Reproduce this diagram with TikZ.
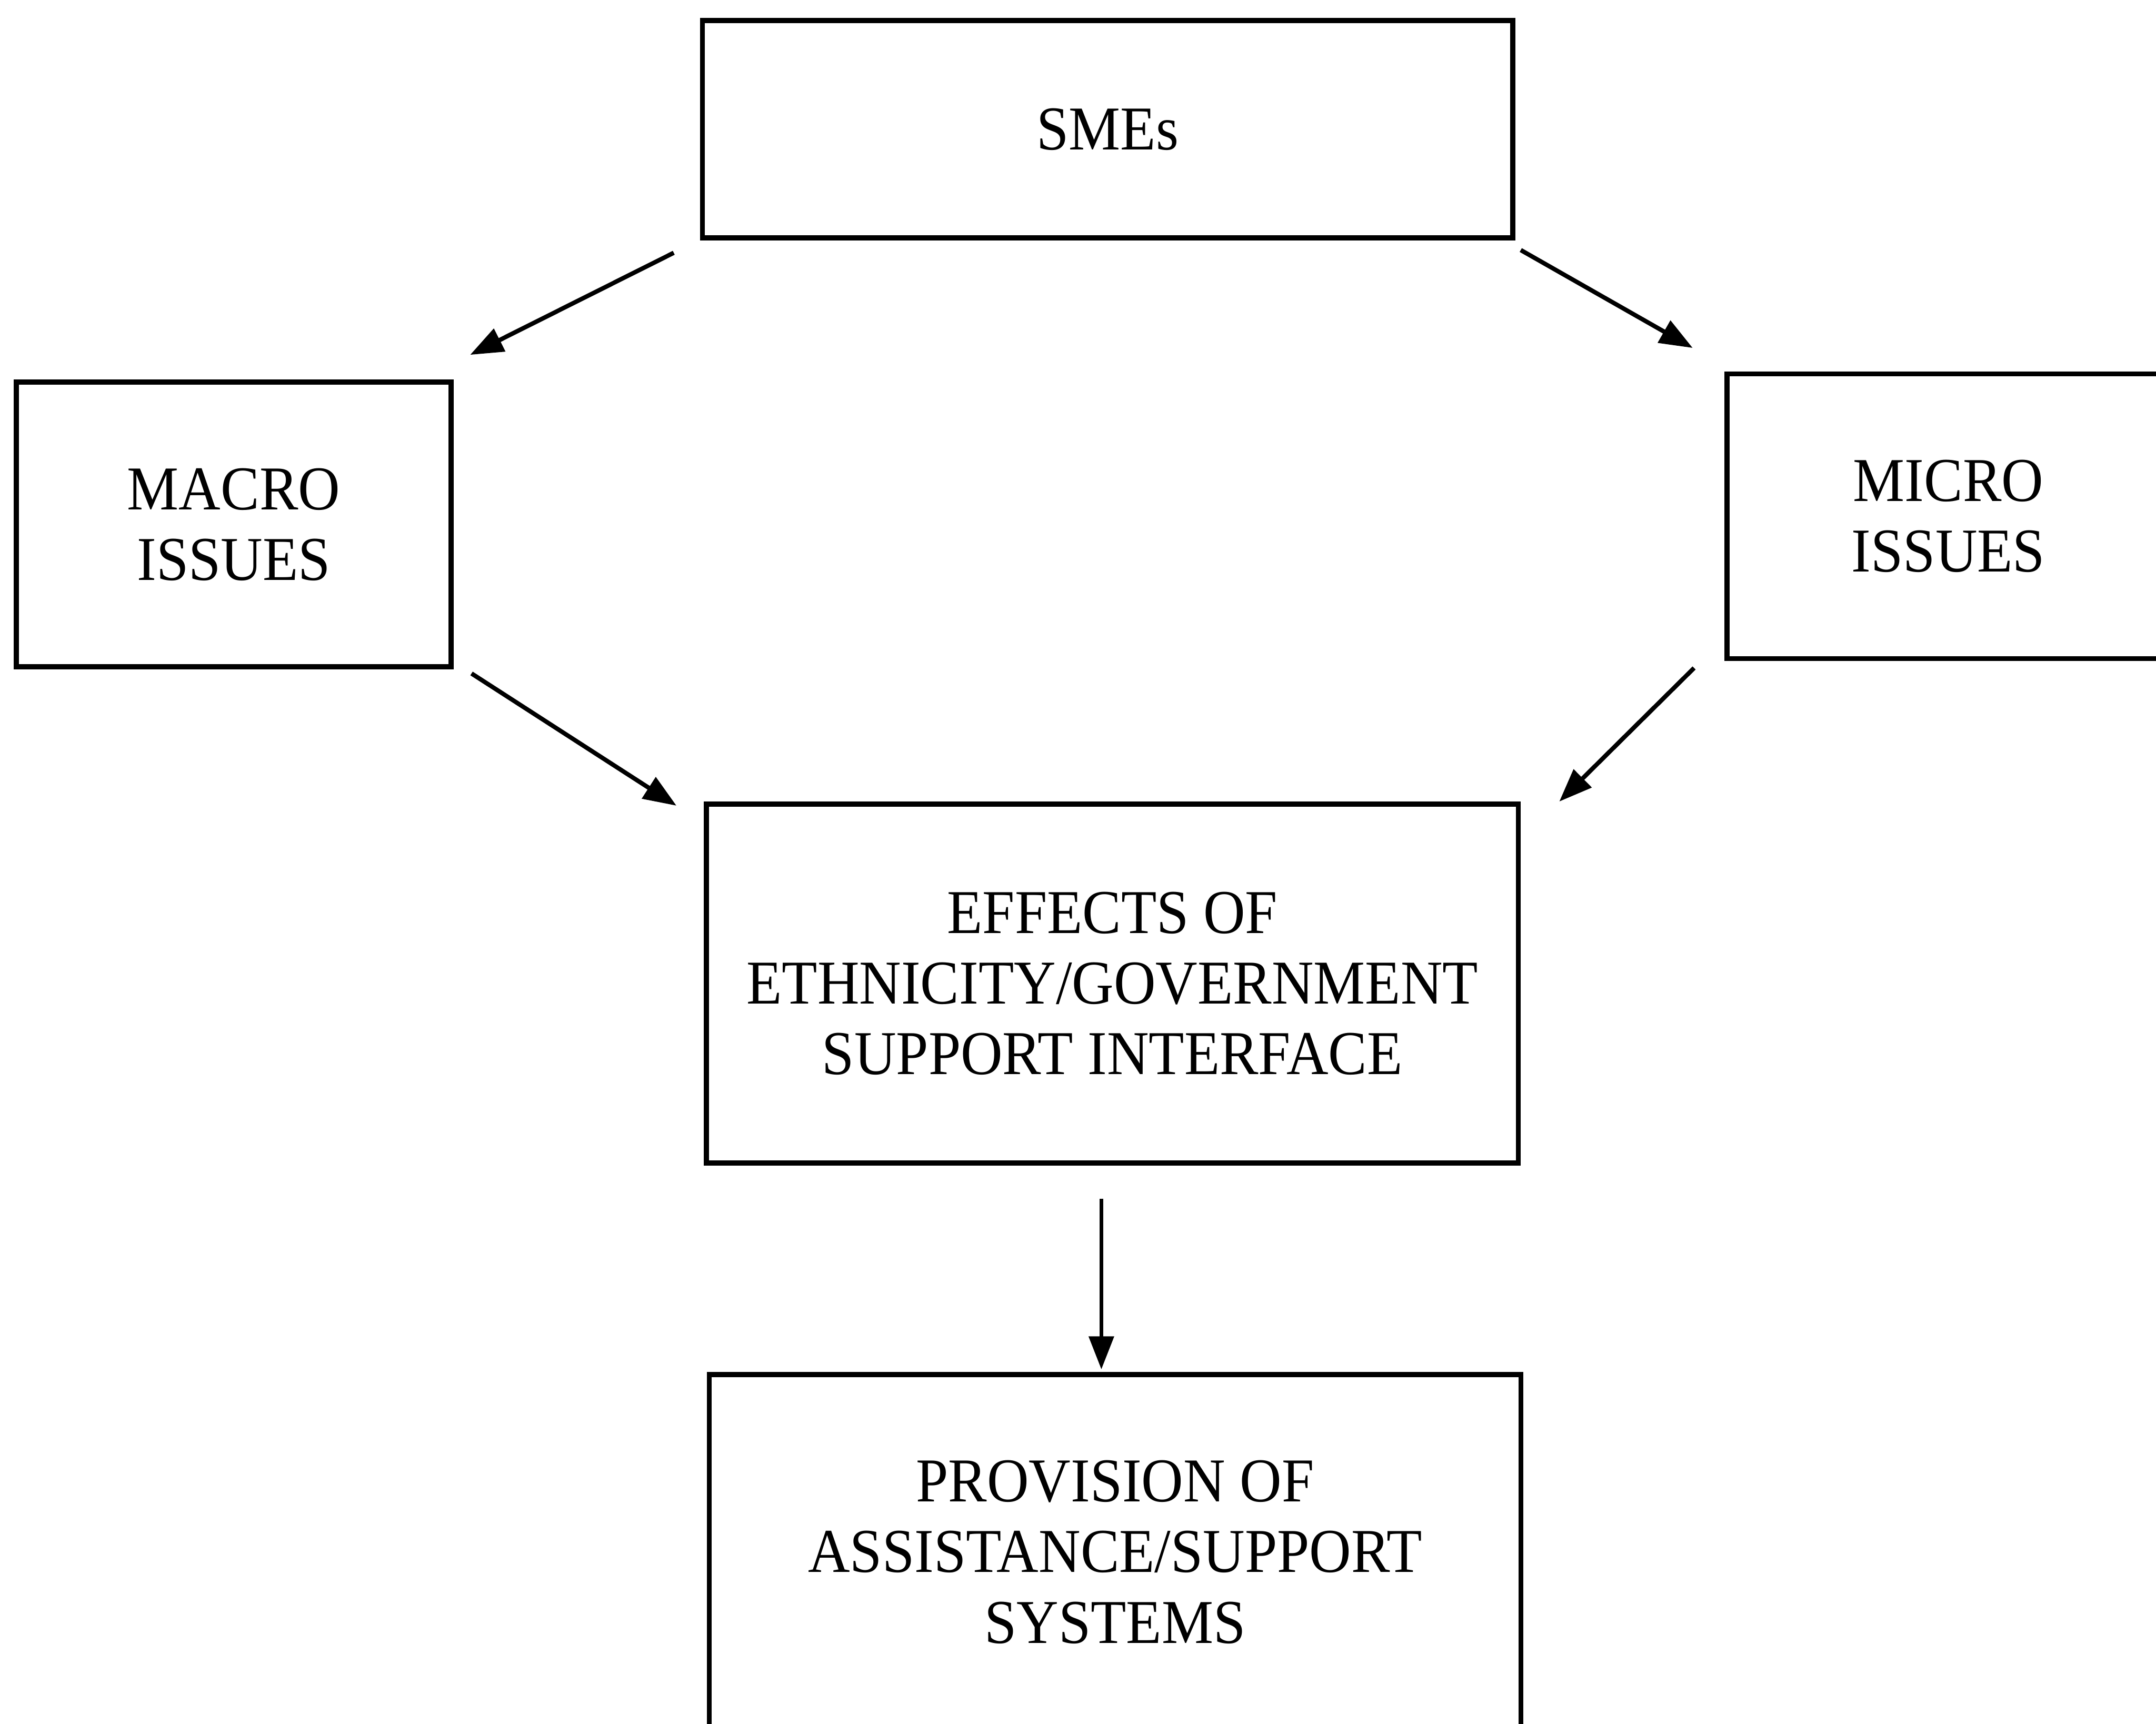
\documentclass[tikz,border=0pt]{standalone}
\usepackage{fontspec}
\setmainfont{Liberation Serif}[FakeStretch=0.93]
\usetikzlibrary{arrows.meta,calc}
\begin{document}
\begin{tikzpicture}[x=0.01cm,y=-0.01cm,
  box/.style={draw,line width=1.05pt,inner sep=0pt,align=center,
    font=\fontsize{12.9}{14.6}\selectfont},
  arr/.style={line width=0.9pt,-{Triangle[length=0.24cm,width=0.18cm]}}]
\useasboundingbox (0,0) rectangle (1568,1254);
\clip (0,0) rectangle (1568,1254);
\fill[white] (0,0) rectangle (1568,1254);
\node[box,minimum width=5.89cm,minimum height=1.58cm] (sme) at (805.5,94) {SMEs};
\node[box,minimum width=3.16cm,minimum height=2.07cm] (macro) at (170,381.5) {MACRO\\ISSUES};
\node[box,minimum width=3.22cm,minimum height=2.07cm] (micro) at (1417,375.5) {MICRO\\ISSUES};
\node[box,minimum width=5.90cm,minimum height=2.61cm] (eff) at (809,715.5) {EFFECTS OF\\ETHNICITY/GOVERNMENT\\SUPPORT INTERFACE};
\node[box,minimum width=5.90cm,minimum height=2.58cm] (prov) at (811,1129) {PROVISION OF\\ASSISTANCE/SUPPORT\\SYSTEMS};
\draw[arr] ($(sme.south west)+(-19,9)$) -- ($(macro.north east)+(12,-18)$);
\draw[arr] ($(sme.south east)+(4,7)$) -- ($(micro.north west)+(-23,-17)$);
\draw[arr] ($(macro.south east)+(13,3)$) -- ($(eff.north west)+(-20,3)$);
\draw[arr] ($(micro.south west)+(-22,5)$) -- ($(eff.north east)+(28,0)$);
\draw[arr,line width=0.75pt] ($(eff.south)+(-8,24)$) -- ($(prov.north)+(-10,-2)$);
\end{tikzpicture}
\end{document}
